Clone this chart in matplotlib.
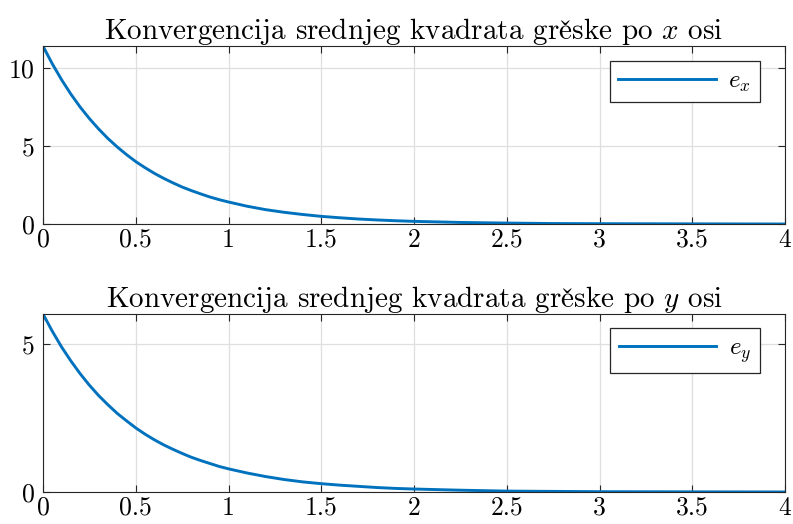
import matplotlib
matplotlib.use("Agg")
import matplotlib.pyplot as plt

plt.rcParams['font.family'] = ['cmr10', 'DejaVu Serif']
plt.rcParams['mathtext.fontset'] = 'cm'
plt.rcParams['axes.formatter.use_mathtext'] = True

# vrijeme [s]
t = [0.0, 0.05, 0.1, 0.15, 0.2, 0.25, 0.3, 0.35, 0.4, 0.45, 0.5,
     0.55, 0.6, 0.65, 0.7, 0.75, 0.8, 0.85, 0.9, 0.95, 1.0,
     1.1, 1.2, 1.3, 1.4, 1.5, 1.6, 1.7, 1.8, 1.9, 2.0,
     2.25, 2.5, 2.75, 3.0, 3.5, 4.0]

# srednji kvadrat greske po x osi
e_x = [11.4, 10.27, 9.25, 8.33, 7.5, 6.76, 6.09, 5.48, 4.94, 4.45, 4.0,
       3.61, 3.25, 2.93, 2.64, 2.37, 2.14, 1.93, 1.73, 1.56, 1.41,
       1.14, 0.92, 0.75, 0.61, 0.49, 0.40, 0.32, 0.26, 0.21, 0.17,
       0.10, 0.06, 0.03, 0.02, 0.01, 0.0]

# srednji kvadrat greske po y osi
e_y = [6.0, 5.42, 4.89, 4.42, 3.99, 3.6, 3.25, 2.94, 2.65, 2.4, 2.16,
       1.95, 1.76, 1.59, 1.44, 1.3, 1.17, 1.06, 0.96, 0.86, 0.78,
       0.64, 0.52, 0.42, 0.34, 0.28, 0.23, 0.19, 0.15, 0.12, 0.10,
       0.06, 0.03, 0.02, 0.01, 0.005, 0.0]

naslovi = [r'Konvergencija srednjeg kvadrata gre$\check{\mathrm{s}}$ke po $x$ osi',
           r'Konvergencija srednjeg kvadrata gre$\check{\mathrm{s}}$ke po $y$ osi']
legende = [r'$e_x$', r'$e_y$']
yticks = [[0, 5, 10], [0, 5]]
leg_pos = [(0.966, 0.916), (0.966, 0.921)]

fig = plt.figure(figsize=(7.93, 5.24), dpi=100)
ax1 = fig.add_axes([0.0542, 0.5725, 0.9358, 0.3395])
ax2 = fig.add_axes([0.0542, 0.0611, 0.9358, 0.3397])

for ax, e, nasl, leg, yt, lp in zip([ax1, ax2], [e_x, e_y], naslovi, legende, yticks, leg_pos):
    ax.plot(t, e, color='#0072BD', linewidth=2.1, label=leg)
    ax.set_xlim(0, 4)
    ax.set_ylim(0, max(e))
    ax.set_yticks(yt)
    ax.set_xticks([0, 0.5, 1, 1.5, 2, 2.5, 3, 3.5, 4])
    ax.set_xticklabels(['0', '0.5', '1', '1.5', '2', '2.5', '3', '3.5', '4'])
    ax.grid(True, color='#dfdfdf', linewidth=0.9)
    ax.set_axisbelow(True)
    ax.tick_params(direction='in', top=True, right=True, labelsize=18.5,
                   color='#262626', length=5, width=0.8)
    ax.tick_params(axis='x', pad=3)
    ax.tick_params(axis='y', pad=6)
    for s in ax.spines.values():
        s.set_color('#262626')
        s.set_linewidth(0.8)
    ax.set_title(nasl, fontsize=21, pad=5)
    lg = ax.legend(loc='upper right', bbox_to_anchor=lp, fancybox=False,
                   framealpha=1, edgecolor='#262626', fontsize=18,
                   handlelength=3.9, borderaxespad=0, borderpad=0.35,
                   handletextpad=0.5)
    lg.get_frame().set_linewidth(0.9)

fig.savefig('out.png', dpi=100)
